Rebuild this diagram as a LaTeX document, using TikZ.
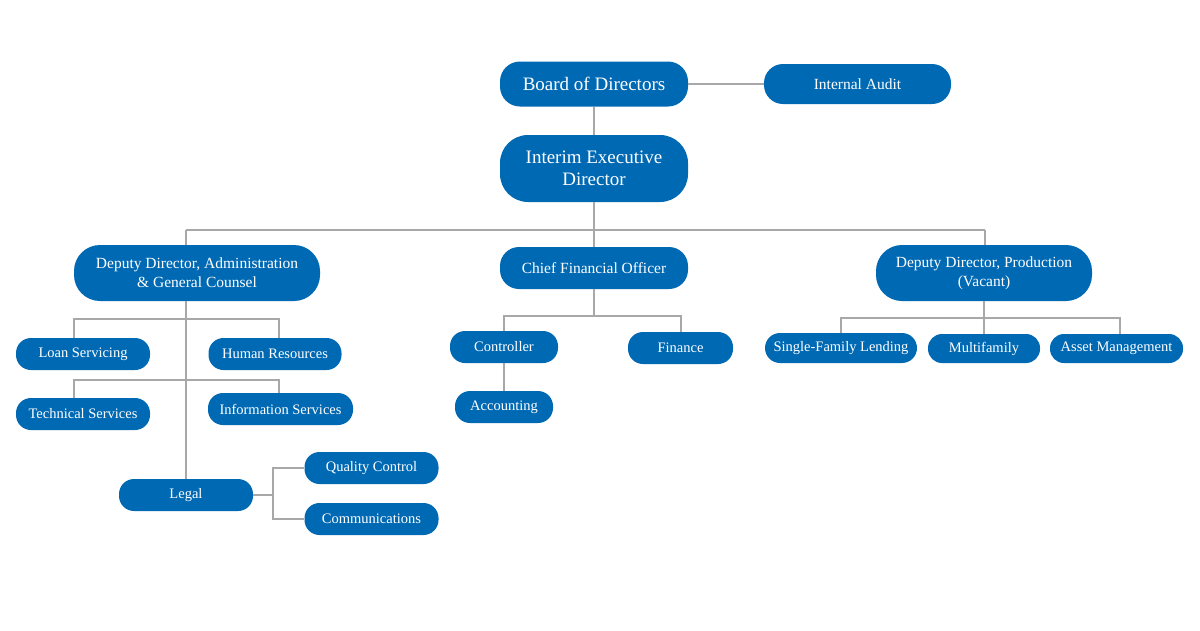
\documentclass[tikz,border=0pt]{standalone}
\usepackage{fontspec}
\setmainfont{Liberation Serif}
\definecolor{boxblue}{HTML}{0069B4}
\definecolor{linegray}{HTML}{A8A8A8}
\begin{document}
\begin{tikzpicture}[x=1pt,y=-1pt,
  box/.style={fill=boxblue, text=white, inner sep=0pt, align=center,
    font=\fontsize{14.5}{17}\selectfont, minimum height=32pt, rounded corners=15pt},
  bigbox/.style={box, font=\fontsize{19}{22}\selectfont},
  midbox/.style={box, font=\fontsize{15.5}{19}\selectfont},
  conn/.style={draw=linegray, line width=2pt},
]
\useasboundingbox (0,0) rectangle (1200,630);
\fill[white] (0,0) rectangle (1200,630);

% top
\node[bigbox, minimum width=188pt, minimum height=45pt, rounded corners=20pt] (bod) at (594,84) {Board of Directors};
\node[midbox, minimum width=187pt, minimum height=40pt, rounded corners=19pt] (ia) at (857.5,84) {Internal Audit};
\node[bigbox, minimum width=188pt, minimum height=67pt, rounded corners=28pt] (ied) at (594,168.5) {Interim Executive\\Director};

% second level
\node[midbox, minimum width=246pt, minimum height=56pt, rounded corners=26pt] (dda) at (197,273) {Deputy Director, Administration\\\& General Counsel};
\node[midbox, minimum width=188pt, minimum height=42pt, rounded corners=19pt] (cfo) at (594,268) {Chief Financial Officer};
\node[midbox, minimum width=216pt, minimum height=56pt, rounded corners=26pt] (ddp) at (984,273) {Deputy Director, Production\\(Vacant)};

% left branch
\node[box, minimum width=134pt] (ls) at (83,354) {Loan Servicing};
\node[box, minimum width=133pt] (hr) at (275,354) {Human Resources};
\node[box, minimum width=134pt] (ts) at (83,414) {Technical Services};
\node[box, minimum width=145pt] (is) at (280.5,409) {Information Services};
\node[box, minimum width=134pt] (legal) at (186,495) {Legal};
\node[box, minimum width=134pt] (qc) at (371.5,468) {Quality Control};
\node[box, minimum width=134pt] (comm) at (371.5,519) {Communications};

% middle branch
\node[box, minimum width=108pt] (ctrl) at (504,347) {Controller};
\node[box, minimum width=105pt] (fin) at (680.5,348) {Finance};
\node[box, minimum width=98pt] (acct) at (504,407) {Accounting};

% right branch
\node[box, minimum width=152pt, minimum height=30pt] (sfl) at (841,348) {Single-Family Lending};
\node[box, minimum width=112pt, minimum height=29pt, rounded corners=14pt] (mf) at (984,348.5) {Multifamily};
\node[box, minimum width=133pt, minimum height=29pt, rounded corners=14pt] (am) at (1116.5,348.5) {Asset Management};

% coordinates
\coordinate (jl) at (186,230);
\coordinate (jr) at (985,230);
\coordinate (h1) at (186,319);
\coordinate (h2) at (186,380);
\coordinate (lsx) at (74,0);
\coordinate (hrx) at (279,0);
\coordinate (lb) at (273,0);
\coordinate (c1) at (0,316);
\coordinate (d1) at (0,318);
\coordinate (amx) at (1120,0);

% connectors
\draw[conn] (bod.east) -- (ia.west);
\draw[conn] (bod.south) -- (ied.north);
\draw[conn] (ied.south) -- (ied.south |- jl);
\draw[conn] (jl) -- (jr);
\draw[conn] (jl) -- (jl |- dda.north);
\draw[conn] (cfo.north) -- (cfo.north |- jl);
\draw[conn] (jr) -- (jr |- ddp.north);

\draw[conn] (dda.south -| legal.north) -- (legal.north);
\draw[conn] (lsx |- ls.north) |- (hrx |- h1) -- (hrx |- hr.north);
\draw[conn] (lsx |- ts.north) |- (hrx |- h2) -- (hrx |- is.north);
\draw[conn] (legal.east) -- (lb |- legal.east);
\draw[conn] (qc.west) -| (lb |- comm.west) -- (comm.west);

\draw[conn] (cfo.south) -- (cfo.south |- c1);
\draw[conn] (ctrl.north) |- (fin.north |- c1) -- (fin.north);
\draw[conn] (ctrl.south) -- (acct.north);

\draw[conn] (ddp.south) -- (ddp.south |- d1);
\draw[conn] (sfl.north) |- (amx |- d1) -- (amx |- am.north);
\draw[conn] (mf.north) -- (mf.north |- d1);
\end{tikzpicture}
\end{document}
